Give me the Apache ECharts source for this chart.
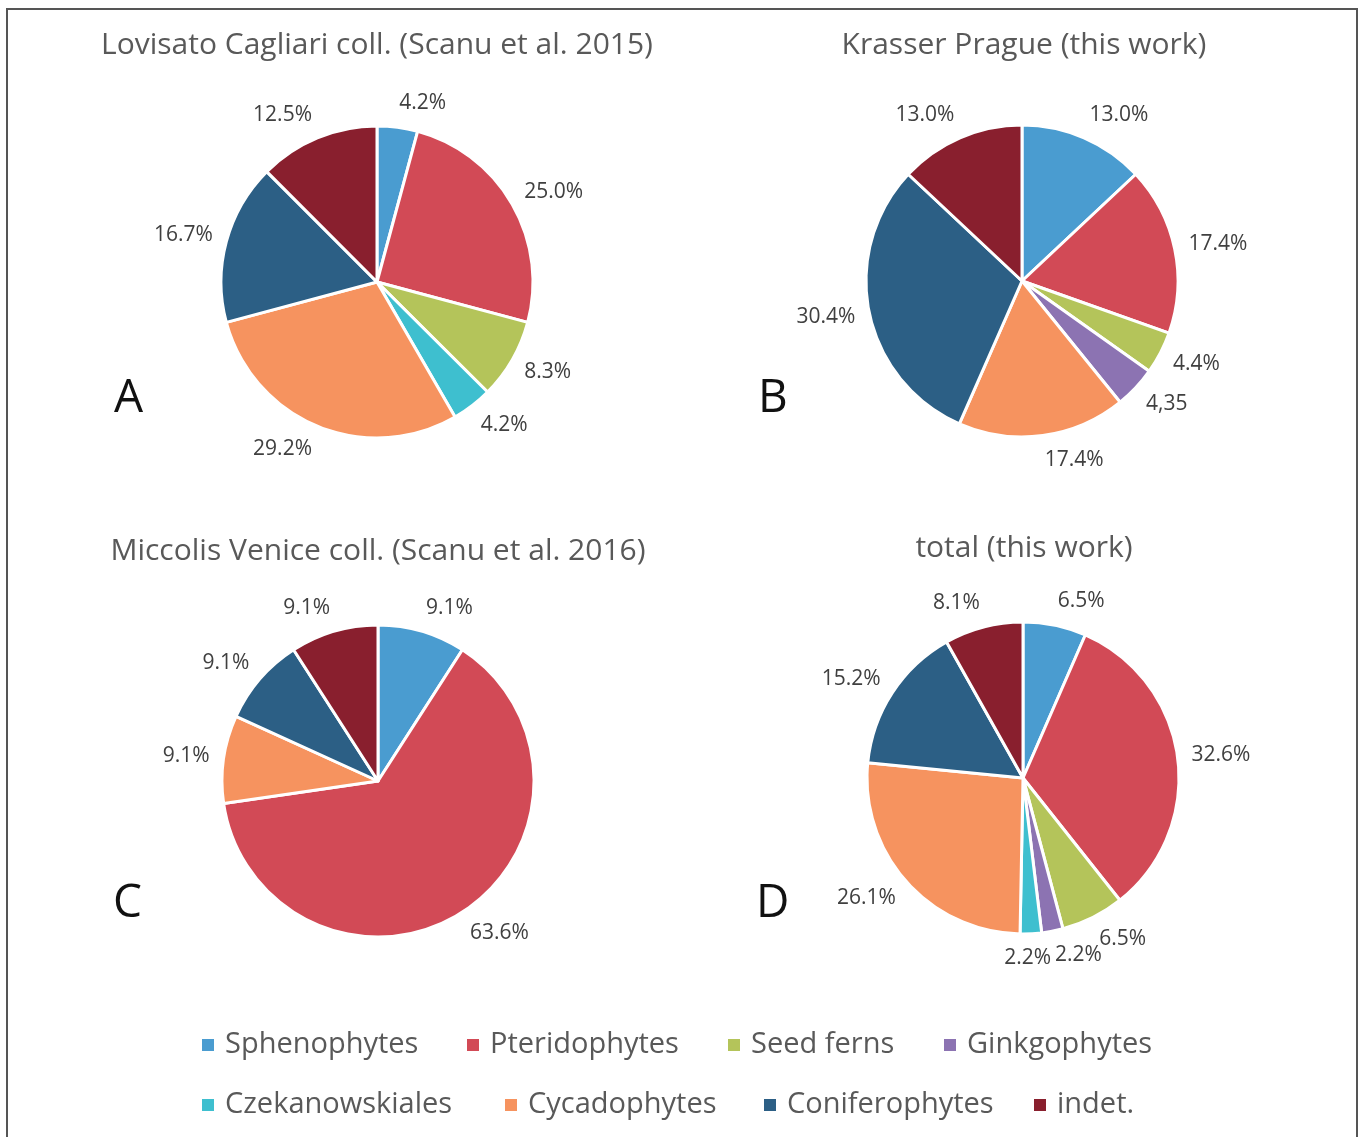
<!DOCTYPE html>
<html>
<head>
<meta charset="utf-8">
<script src="https://cdn.jsdelivr.net/npm/echarts@6/dist/echarts.min.js"></script>
<style>
  html, body { margin: 0; padding: 0; background: #fff; }
  #main { width: 1365px; height: 1137px; }
</style>
</head>
<body>
<div id="main"></div>
<script>
// categories, clockwise from 12 o'clock
const groups = ['Sphenophytes', 'Pteridophytes', 'Seed ferns', 'Ginkgophytes',
  'Czekanowskiales', 'Cycadophytes', 'Coniferophytes', 'indet.'];
const groupColors = ['#4a9cd0', '#d24a56', '#b4c45a', '#8c73b2',
  '#3ebfcf', '#f6935f', '#2c5f85', '#891f2e'];

// percentages per panel (0 = group absent)
const valuesA = [4.2, 25.0, 8.3, 0, 4.2, 29.2, 16.7, 12.5];
const valuesB = [13.0, 17.4, 4.4, 4.35, 0, 17.4, 30.4, 13.0];
const valuesC = [9.1, 63.6, 0, 0, 0, 9.1, 9.1, 9.1];
const valuesD = [6.5, 32.6, 6.5, 2.2, 2.2, 26.1, 15.2, 8.1];

// label texts as printed in the figure
const labelsA = ['4.2%', '25.0%', '8.3%', '', '4.2%', '29.2%', '16.7%', '12.5%'];
const labelsB = ['13.0%', '17.4%', '4.4%', '4,35', '', '17.4%', '30.4%', '13.0%'];
const labelsC = ['9.1%', '63.6%', '', '', '', '9.1%', '9.1%', '9.1%'];
const labelsD = ['6.5%', '32.6%', '6.5%', '2.2%', '2.2%', '26.1%', '15.2%', '8.1%'];

const panelTitles = ['Lovisato Cagliari coll. (Scanu et al. 2015)', 'Krasser Prague (this work)',
  'Miccolis Venice coll. (Scanu et al. 2016)', 'total (this work)'];
const panelLetters = ['A', 'B', 'C', 'D'];

const FONT = '"Open Sans", "Noto Sans", sans-serif';
const R = 156;
const centers = [[377, 282], [1022, 281], [378, 781], [1023, 778]];
const titlePos = [[377, 30], [1024, 30], [378, 536], [1024, 533]];
const letterPos = [[114, 376], [758, 376], [113, 881], [756, 881]];

const chart = echarts.init(document.getElementById('main'));

function buildData(values, labels) {
  const out = [];
  values.forEach(function (v, i) {
    if (!v) return;
    out.push({
      name: groups[i],
      value: v,
      itemStyle: { color: groupColors[i] },
      label: { formatter: labels[i] }
    });
  });
  return out;
}

function pieSeries(idx, values, labels) {
  const c = centers[idx];
  let placed = [];
  return {
    type: 'pie',
    center: c,
    radius: R,
    startAngle: 90,
    clockwise: true,
    avoidLabelOverlap: false,
    silent: true,
    itemStyle: { borderColor: '#fff', borderWidth: 3 },
    label: {
      show: true,
      position: 'outside',
      fontFamily: FONT,
      fontSize: 21,
      color: '#404040'
    },
    labelLine: { show: true, length: 0, length2: 0, lineStyle: { width: 0, opacity: 0 } },
    // put each label just outside the rim on the slice's mid direction;
    // a label that would collide with an earlier one is slid sideways
    labelLayout: function (p) {
      const pts = p.labelLinePoints;
      if (!pts) return {};
      if (p.dataIndex === 0) placed = [];
      const dx = pts[0][0] - c[0], dy = pts[0][1] - c[1];
      const len = Math.sqrt(dx * dx + dy * dy) || 1;
      const ux = dx / len, uy = dy / len;
      const a = p.labelRect.width / 2, b = p.labelRect.height / 2;
      const d = R + 14;
      let x = c[0] + ux * d + (ux >= 0 ? a : -a);
      const y = c[1] + uy * d + b * uy;
      placed.forEach(function (q) {
        if (Math.abs(x - q.x) < a + q.a + 4 && Math.abs(y - q.y) < b + q.b - 6) {
          x = x < q.x ? q.x - q.a - a - 4 : q.x + q.a + a + 4;
        }
      });
      placed.push({ x: x, y: y, a: a, b: b });
      return { x: x, y: y, align: 'center', verticalAlign: 'middle' };
    },
    data: buildData(values, labels)
  };
}

const titles = [];
panelTitles.forEach(function (t, i) {
  titles.push({
    text: t,
    left: titlePos[i][0],
    top: titlePos[i][1],
    textAlign: 'center',
    padding: 0,
    textStyle: { fontFamily: FONT, fontSize: 30, fontWeight: 'normal', color: '#595959' }
  });
});
panelLetters.forEach(function (t, i) {
  titles.push({
    text: t,
    left: letterPos[i][0],
    top: letterPos[i][1],
    padding: 0,
    textStyle: { fontFamily: FONT, fontSize: 46, fontWeight: 'normal', color: '#111' }
  });
});

const legendLeft = [200, 465, 726, 942, 200, 503, 762, 1032];
const legendTop = [1028, 1028, 1028, 1028, 1088, 1088, 1088, 1088];
const legends = groups.map(function (g, i) {
  return {
    data: [g],
    left: legendLeft[i],
    top: legendTop[i],
    padding: 0,
    icon: 'rect',
    itemWidth: 14,
    itemHeight: 14,
    selectedMode: false,
    textStyle: { fontFamily: FONT, fontSize: 29, color: '#595959', lineHeight: 34, padding: [0, 0, 0, 5] }
  };
});

chart.setOption({
  animation: false,
  backgroundColor: '#fff',
  title: titles,
  legend: legends,
  graphic: [{
    type: 'rect',
    shape: { x: 7, y: 9, width: 1350, height: 1140 },
    style: { fill: 'none', stroke: '#555', lineWidth: 2 },
    silent: true
  }],
  series: [
    pieSeries(0, valuesA, labelsA),
    pieSeries(1, valuesB, labelsB),
    pieSeries(2, valuesC, labelsC),
    pieSeries(3, valuesD, labelsD)
  ]
});
</script>
</body>
</html>
